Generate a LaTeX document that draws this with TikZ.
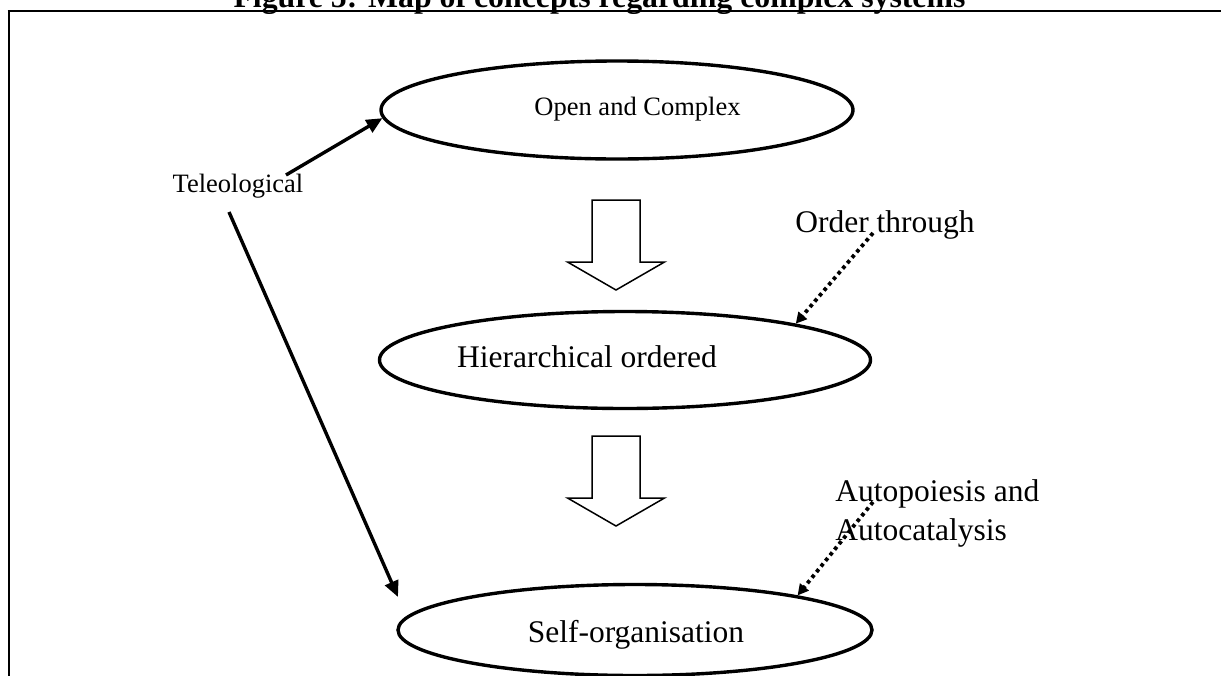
\documentclass[tikz,border=0pt]{standalone}
\usepackage{fontspec}
\setmainfont{Liberation Serif}
\usetikzlibrary{arrows.meta,shapes.geometric}
\begin{document}
\begin{tikzpicture}[x=0.5pt,y=-0.5pt,
  conceptbox/.style={ellipse,draw,line width=1.7pt,inner sep=0pt},
  bigtext/.style={inner sep=0pt,anchor=base,font=\fontsize{15.75}{19.5}\selectfont},
  smalltext/.style={inner sep=0pt,anchor=base,font=\fontsize{13.25}{16}\selectfont},
  solidarrow/.style={line width=1.7pt,-{Triangle[length=8pt,width=7pt]}},
  dotarrow/.style={line width=1.9pt,dash pattern=on 1.8pt off 1.8pt,-{Triangle[length=5.5pt,width=5.5pt]}},
  blockline/.style={line width=0.75pt,line join=miter},
  downarrow/.pic={\draw[blockline] (-24,0) -- (-24,62) -- (-48.5,62) -- (0,90)
      -- (48.5,62) -- (24,62) -- (24,0) -- cycle;}]
\clip (0,0) rectangle (1221,675);
\fill[white] (0,0) rectangle (1221,675);

% frame around the figure
\draw[line width=1pt] (8.5,700) -- (8.5,11);
\draw[line width=1.4pt] (7.5,11) -- (1240,11);

% caption
\node[inner sep=0pt,anchor=base,font=\fontsize{15.9}{19}\selectfont\bfseries] (title)
  at (599.5,7) {Figure 5: Map of concepts regarding complex systems};

% concepts
\node[conceptbox,minimum width=236pt,minimum height=49pt] (open) at (617,110) {};
\node[conceptbox,minimum width=245.5pt,minimum height=48.5pt] (hier) at (625,360) {};
\node[conceptbox,minimum width=237pt,minimum height=45.5pt] (self) at (635,630) {};

\node[smalltext] (opentxt) at (637.5,115) {Open and Complex};
\node[bigtext] (hiertxt) at (587,367) {Hierarchical ordered};
\node[bigtext] (selftxt) at (636,642) {Self-organisation};

% side labels
\node[smalltext] (tele) at (238,192) {Teleological};
\node[bigtext] (order) at (885,232) {Order through};
\node[bigtext,anchor=base west,align=left] (auto) at (835,540) {Autopoiesis and\\Autocatalysis};

% block arrows between the levels
\pic at (616,200) {downarrow};
\pic at (616,436) {downarrow};

% connectors
\coordinate (teleEnd) at ([shift={(-237,-33)}]self.center);
\draw[solidarrow] ([shift={(48,-17)}]tele.base) -- (open.182);
\draw[solidarrow] ([shift={(-9,20)}]tele.base) -- (teleEnd);
\draw[dotarrow] ([shift={(-12,1)}]order.base) -- (hier.12.5);
\draw[dotarrow] ([shift={(38,-38)}]auto.base west) -- (self.12.8);
\end{tikzpicture}
\end{document}
